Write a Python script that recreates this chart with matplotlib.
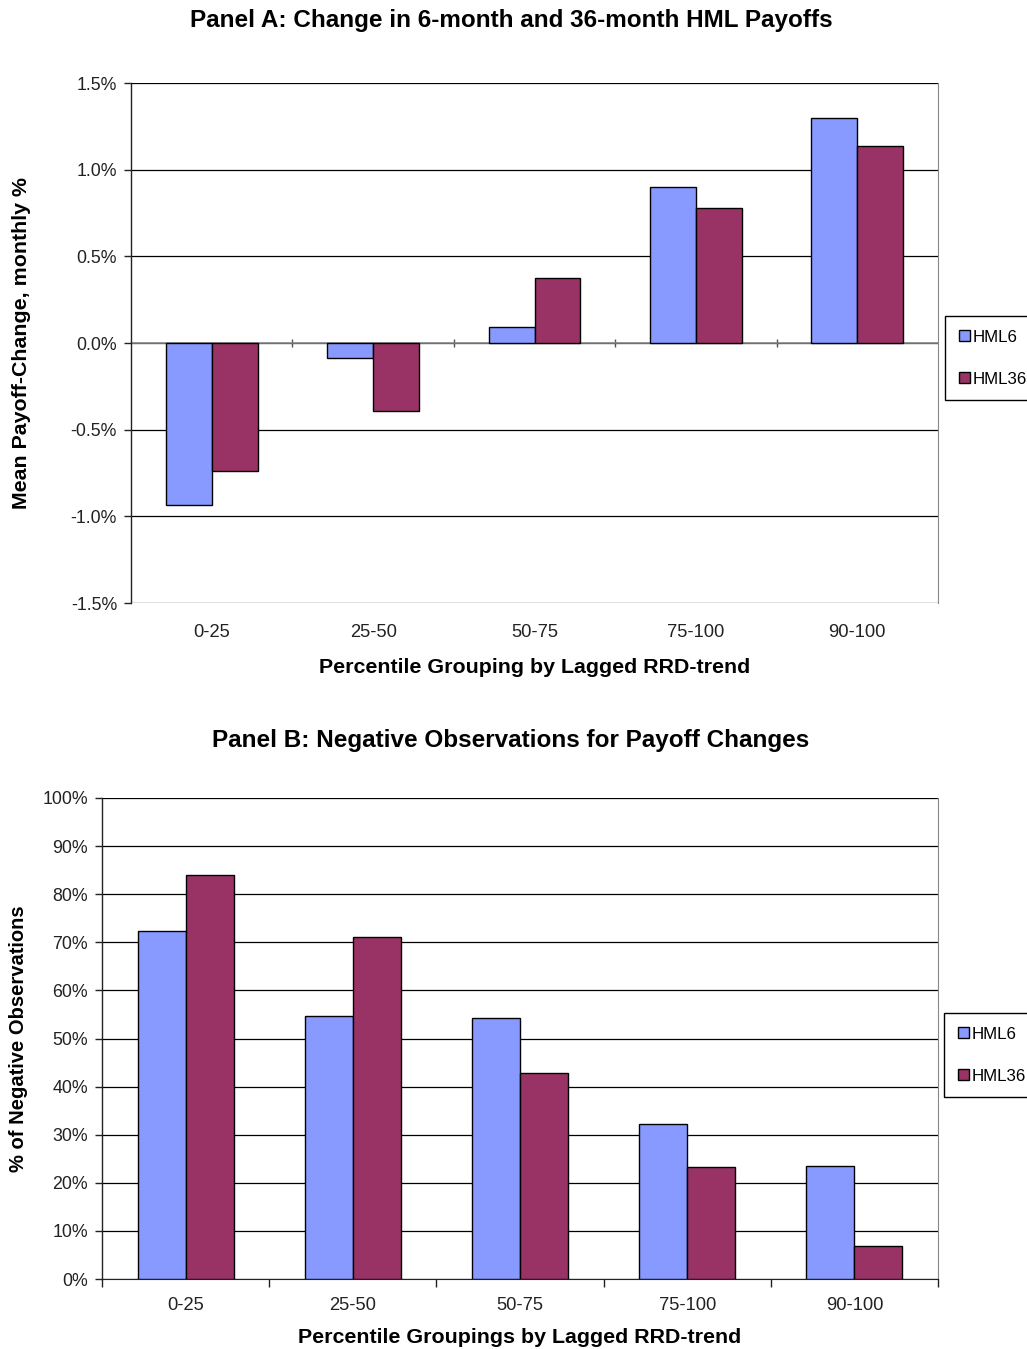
import numpy as np
import matplotlib
matplotlib.use("Agg")
import matplotlib.pyplot as plt
from matplotlib.ticker import FuncFormatter, FixedLocator
from matplotlib.patches import Patch

plt.rcParams['font.family'] = ['Liberation Sans', 'DejaVu Sans']

groups = ['0-25', '25-50', '50-75', '75-100', '90-100']
series = ['HML6', 'HML36']

# Panel A: mean payoff change, monthly %
hml6_change = [-0.935, -0.087, 0.092, 0.900, 1.298]
hml36_change = [-0.739, -0.392, 0.375, 0.779, 1.137]

# Panel B: share of negative observations, %
hml6_neg = [72.3, 54.7, 54.3, 32.2, 23.5]
hml36_neg = [84.0, 71.1, 42.8, 23.3, 6.9]

colors = ['#8899FF', '#993366']
W, H = 1027, 1349
fig = plt.figure(figsize=(W / 100, H / 100), dpi=100)

ytick_fs = 12.8
xtick_fs = 13.2
lab_fs = 15.4
title_fs = 17.5


def style_common(ax):
    ax.set_xlim(-0.5, len(groups) - 0.5)
    ax.spines['right'].set_color('#888888')
    ax.spines['top'].set_visible(False)
    ax.spines['left'].set_color('#222222')
    ax.spines['left'].set_linewidth(1.0)
    ax.tick_params(axis='y', direction='out', length=5, width=1,
                   labelsize=ytick_fs, colors='#222222', pad=5)
    ax.grid(axis='y', color='black', linewidth=0.9)
    ax.set_axisbelow(True)


def draw_bars(ax, a, b, bw):
    x = np.arange(len(groups))
    ax.bar(x - bw / 2, a, bw, color=colors[0], edgecolor='black', linewidth=1.0, zorder=3)
    ax.bar(x + bw / 2, b, bw, color=colors[1], edgecolor='black', linewidth=1.0, zorder=3)


def add_legend(x0, y0):
    handles = [Patch(facecolor=c, edgecolor='black', linewidth=1.0) for c in colors]
    fig.legend(handles, series, loc='upper left',
               bbox_to_anchor=(x0 / W, 1 - y0 / H), bbox_transform=fig.transFigure,
               fontsize=12.2, frameon=True, fancybox=False, edgecolor='black',
               framealpha=1, handlelength=0.65, handleheight=0.65,
               handletextpad=0.2, labelspacing=1.6, borderpad=0.8,
               borderaxespad=0)


# ---------------- Panel A ----------------
axA = fig.add_axes([131 / W, 1 - 603 / H, 807 / W, 520 / H])
draw_bars(axA, hml6_change, hml36_change, 0.285)
style_common(axA)
axA.set_ylim(-1.5, 1.5)
axA.yaxis.set_major_locator(FixedLocator(np.arange(-1.5, 1.51, 0.5)))
axA.yaxis.set_major_formatter(FuncFormatter(lambda v, p: f"{v:.1f}%"))
axA.spines['bottom'].set_visible(False)
axA.set_xticks(range(len(groups)))
axA.set_xticklabels(groups)
axA.tick_params(axis='x', length=0, labelsize=xtick_fs, pad=15, colors='#222222')
# zero line drawn as a category axis with boundary ticks
axA.axhline(0, color='#888888', linewidth=1.2, zorder=1)
sec = axA.secondary_xaxis(0.5)
sec.set_xticks(np.arange(0.5, len(groups) - 0.5, 1.0))
sec.tick_params(axis='x', direction='inout', length=6, width=1, labelbottom=False,
                labeltop=False, colors='#555555')
sec.spines['bottom'].set_visible(False)
sec.spines['top'].set_visible(False)
axA.set_xlabel('Percentile Grouping by Lagged RRD-trend', fontsize=lab_fs,
               fontweight='bold', labelpad=12)
axA.set_ylabel('Mean Payoff-Change, monthly %', fontsize=lab_fs, fontweight='bold')
axA.yaxis.set_label_coords(-0.124, 0.5)
fig.text(511 / W, 1 - 21 / H, 'Panel A: Change in 6-month and 36-month HML Payoffs',
         ha='center', va='center', fontsize=title_fs, fontweight='bold')
add_legend(945, 316)

# ---------------- Panel B ----------------
axB = fig.add_axes([102 / W, 1 - 1279 / H, 836 / W, 481 / H])
draw_bars(axB, hml6_neg, hml36_neg, 0.287)
style_common(axB)
axB.set_ylim(0, 100)
axB.yaxis.set_major_locator(FixedLocator(np.arange(0, 101, 10)))
axB.yaxis.set_major_formatter(FuncFormatter(lambda v, p: f"{v:.0f}%"))
axB.spines['bottom'].set_color('#222222')
axB.set_xticks(np.arange(-0.5, len(groups), 1.0))
axB.set_xticklabels([''] * (len(groups) + 1))
axB.set_xticks(range(len(groups)), minor=True)
axB.set_xticklabels(groups, minor=True)
axB.tick_params(axis='x', which='major', direction='out', length=6, width=1, colors='#222222')
axB.tick_params(axis='x', which='minor', length=0, labelsize=xtick_fs, pad=13, colors='#222222')
axB.set_xlabel('Percentile Groupings by Lagged RRD-trend', fontsize=lab_fs,
               fontweight='bold', labelpad=10)
axB.set_ylabel('% of Negative Observations', fontsize=14.5, fontweight='bold')
axB.yaxis.set_label_coords(-0.089, 0.5)
fig.text(511 / W, 1 - 740 / H, 'Panel B: Negative Observations for Payoff Changes',
         ha='center', va='center', fontsize=title_fs, fontweight='bold')
add_legend(944, 1013)

fig.savefig('out.png', dpi=100)
